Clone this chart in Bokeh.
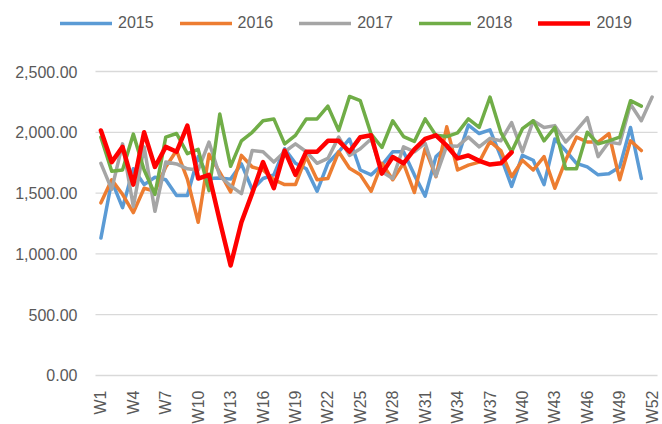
import math
from bokeh.plotting import figure
from bokeh.models import Range1d, Legend, LegendItem, ColumnDataSource
from bokeh.core.properties import value
from bokeh.embed import file_html
from bokeh.resources import INLINE

weeks = ["W1", "W2", "W3", "W4", "W5", "W6", "W7", "W8", "W9", "W10", "W11", "W12", "W13",
         "W14", "W15", "W16", "W17", "W18", "W19", "W20", "W21", "W22", "W23", "W24", "W25", "W26",
         "W27", "W28", "W29", "W30", "W31", "W32", "W33", "W34", "W35", "W36", "W37", "W38", "W39",
         "W40", "W41", "W42", "W43", "W44", "W45", "W46", "W47", "W48", "W49", "W50", "W51", "W52"]
tick_labels = ["W1", "W4", "W7", "W10", "W13", "W16", "W19", "W22", "W25", "W28", "W31", "W34",
               "W37", "W40", "W43", "W46", "W49", "W52"]
y_ticks = [0, 500, 1000, 1500, 2000, 2500]
y_tick_labels = ["0.00", "500.00", "1,000.00", "1,500.00", "2,000.00", "2,500.00"]

s2015 = [1130, 1600, 1380, 1700, 1570, 1630, 1610, 1480, 1480, 1800, 1620, 1625, 1615,
         1740, 1530, 1620, 1650, 1865, 1745, 1700, 1515, 1745, 1840, 1945, 1690, 1650,
         1730, 1840, 1840, 1650, 1475, 1800, 1880, 1790, 2060, 1990, 2020, 1800, 1555,
         1810, 1770, 1570, 1945, 1850, 1745, 1715, 1650, 1660, 1715, 2040, 1620]
s2016 = [1420, 1610, 1490, 1340, 1540, 1515, 1715, 1850, 1615, 1260, 1820, 1670, 1510,
         1810, 1715, 1690, 1610, 1570, 1570, 1800, 1610, 1620, 1840, 1705, 1650, 1515,
         1745, 1610, 1745, 1505, 1865, 1635, 2045, 1690, 1730, 1755, 1925, 1850, 1635,
         1770, 1690, 1800, 1540, 1770, 1960, 1920, 1920, 1990, 1610, 1930, 1850]
s2017 = [1745, 1530, 1905, 1390, 1880, 1350, 1755, 1740, 1700, 1690, 1920, 1640, 1560,
         1495, 1850, 1840, 1755, 1840, 1905, 1840, 1745, 1785, 1960, 1810, 1865, 1945,
         1675, 1620, 1880, 1840, 1910, 1640, 1890, 1885, 1960, 1880, 1950, 1930, 2080,
         1840, 2095, 2040, 2055, 1920, 2015, 2120, 1800, 1920, 1905, 2230, 2095, 2290]
s2018 = [1960, 1680, 1690, 1985, 1690, 1490, 1960, 1990, 1825, 1860, 1520, 2150, 1720,
         1930, 2000, 2095, 2110, 1905, 1975, 2110, 2110, 2215, 2015, 2295, 2260, 1985,
         1875, 2095, 1965, 1925, 2110, 1975, 1965, 1995, 2110, 2040, 2290, 2000, 1840,
         2030, 2095, 1930, 2040, 1700, 1700, 2000, 1905, 1930, 1960, 2260, 2215]
s2019 = [2015, 1755, 1880, 1570, 2000, 1715, 1880, 1840, 2055, 1620, 1650, 1270, 905,
         1260, 1500, 1755, 1540, 1850, 1650, 1840, 1840, 1930, 1930, 1840, 1960, 1975,
         1660, 1797, 1745, 1860, 1945, 1975, 1890, 1785, 1810, 1765, 1735, 1745, 1835]

series = [("2015", s2015, "#5B9BD5", 3.5),
          ("2016", s2016, "#ED7D31", 3.5),
          ("2017", s2017, "#A5A5A5", 3.5),
          ("2018", s2018, "#70AD47", 3.5),
          ("2019", s2019, "#FF0000", 4.5)]

FONT = "Liberation Sans"
TXT = "#595959"

# frame covers the whole canvas; ranges chosen so the plot area sits where the reference has it
p = figure(width=662, height=424, output_backend="svg", toolbar_location=None,
           x_range=Range1d(-8.29, 52.96), y_range=Range1d(-403.0, 3083.9),
           x_axis_type=None, y_axis_type=None,
           min_border_left=0, min_border_right=0, min_border_top=0, min_border_bottom=0)
p.outline_line_color = None
p.background_fill_color = "white"
p.border_fill_color = "white"
p.xgrid.visible = False
p.ygrid.visible = False

# horizontal gridlines across the category span
n = len(weeks)
p.segment(x0=[0.5] * len(y_ticks), x1=[n + 0.5] * len(y_ticks), y0=y_ticks, y1=y_ticks,
          line_color="#D9D9D9", line_width=1.3)

# y tick labels
p.text(x=[0.5] * len(y_ticks), y=y_ticks, text=y_tick_labels, x_offset=-18,
       text_align="right", text_baseline="middle",
       text_font=value(FONT), text_font_size="16px", text_color=TXT)

items = []
for name, vals, color, lw in series:
    xs = [weeks.index(w) + 1 for w in weeks[:len(vals)]]
    src = ColumnDataSource(dict(x=xs, y=vals))
    r = p.line("x", "y", source=src, line_color=color, line_width=lw,
               line_join="round", line_cap="round")
    items.append(LegendItem(label=name, renderers=[r]))

# x tick labels, rotated
lab_x = [weeks.index(t) + 1 for t in tick_labels]
p.text(x=lab_x, y=[0] * len(lab_x), text=tick_labels, angle=math.pi / 2,
       text_align="right", text_baseline="middle", y_offset=15,
       text_font=value(FONT), text_font_size="16px", text_color=TXT)

legend = Legend(items=items, orientation="horizontal", location=(60, 391),
                glyph_width=52, glyph_height=20, label_height=20, label_standoff=6,
                spacing=26, padding=0, margin=0, border_line_color=None,
                background_fill_alpha=0, label_text_font=FONT,
                label_text_font_size="16px", label_text_color=TXT)
p.add_layout(legend, "center")

open("out.html", "w").write(file_html(p, INLINE))
